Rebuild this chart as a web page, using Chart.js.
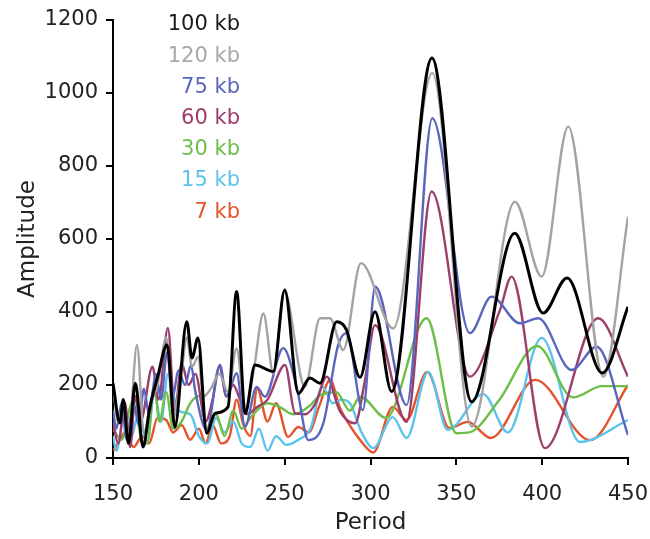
<!DOCTYPE html>
<html>
<head>
<meta charset="utf-8">
<script src="https://cdn.jsdelivr.net/npm/chart.js@4/dist/chart.umd.min.js"></script>
<style>
  html, body { margin: 0; background: #fff; }
  #caixa { width: 650px; height: 539px; }
</style>
</head>
<body>
<div id="caixa"><canvas id="grafico-periodos"></canvas></div>
<script>
// series names and colours
var nomes = ['100 kb', '120 kb', '75 kb', '60 kb', '30 kb', '15 kb', '7 kb'];
var cores = ['#000000', '#a3a3a3', '#5a66bd', '#9c3d6c', '#6dbf4a', '#5cc3ec', '#e5532c'];
var textoCores = ['#1a1a1a', '#a8a8a8', '#5a66bd', '#9c3d6c', '#6dbf4a', '#5cc3ec', '#e5532c'];

// period / amplitude for each series
var p100 = [150,154,156,159,163,167.5,171.5,176,181.5,186,193,196,199.5,204.6,209.4,217,222,227,232.7,243.4,250,258,264.7,270.6,280.3,286,293.9,302.6,312.3,335.8,358.9,384,400.5,414.5,435,450];
var a100 = [205,96,160,40,205,30,140,222,310,85,373,274,329,68,122,140,456,122,255,237,460,177,219,205,373,351,221,401,182,1096,154,616,397,493,233,414];

var p120 = [150,153,156,159,164,168,172,176,181,185,190,193,196,199.7,202.6,207,212,217,222,227,232,237.6,243.4,249.8,261.8,270.6,276.4,284.1,294.4,313.3,336,358.9,384.1,399.7,415.2,435.6,450];
var a120 = [195,100,150,60,310,70,150,200,330,110,240,330,250,278,168,190,230,180,300,130,240,396,232,456,195,383,383,296,534,355,1055,86,702,497,908,223,661];

var p75 = [150,152,155,158,162,165,168,171,175,178,181.5,185,188,192,195.5,197.8,204.6,212.3,216.2,222,226.9,233.7,238.5,249.2,257,263.8,272.5,281.2,286.1,295.5,302.8,321,336,357.9,370.5,387,397.7,417.1,431.7,450];
var a75 = [130,80,150,50,150,90,190,120,230,160,290,170,240,200,255,186,77,255,168,232,86,195,168,301,195,49,95,310,342,131,469,145,931,342,442,369,383,241,305,63];

var p60 = [150,153,157,160,163,166,173,176.5,182,186,190,194,198,204,208,212,216,220,224,228,234,240,250.2,256,262,268,274.5,282,291,296.8,302.6,321,335.6,357.9,375.4,382.2,401.6,432.7,450];
var a60 = [100,40,150,30,170,100,250,160,356,130,260,200,230,100,160,250,170,200,160,120,140,160,255,123,120,150,223,130,95,214,364,99,730,223,405,497,27,383,223];

var p30 = [150,155,160,163,166,170,174,177,181,185,190,195,200,205,210,215,220,225,230,240,247,255,265,270,280,288,294,309,332.7,350,358,375,397,418,435,450];
var a30 = [80,50,140,170,60,40,200,100,180,80,100,150,170,80,120,60,130,80,110,150,140,120,145,170,180,130,168,110,383,68,71,159,307,166,197,197];

var p15 = [150,152,156,160,165,170,174,178,182,188,195,200,205,210,215,220,225,230,235,240,245,251,258,265,272,278,283,288,295,301.6,313,321,333.6,345,365.7,380,399.7,422,450];
var a15 = [60,20,100,50,120,40,180,100,230,130,120,60,40,110,70,100,40,30,80,20,60,36,50,80,195,150,160,150,68,27,112,55,236,77,175,70,329,44,104];

var p7 = [150,153,157,162,167,171,176,181,185,190,195,200,204,208,213,218,222,226,230,234,240,245,252,258,264,270,276.5,282,287,294,301.6,313,321,333,346,356.7,370,396,428,450];
var a7 = [20,40,70,30,60,40,110,104,70,90,50,80,40,90,40,60,160,90,60,190,100,150,58,85,70,140,214,140,96,49,15,140,104,236,82,99,55,214,49,200];

var periodos = [p100, p120, p75, p60, p30, p15, p7];
var amplitudes = [a100, a120, a75, a60, a30, a15, a7];

// axis ticks
var xMin = 150, xMax = 450, xPasso = 50;
var yMin = 0, yMax = 1200, yPasso = 200;

var fonte = 'DejaVu Sans';

var conjuntos = nomes.map(function (nome, i) {
    return {
        label: nome,
        data: periodos[i].map(function (p, j) { return { x: p, y: amplitudes[i][j] }; }),
        borderColor: cores[i],
        backgroundColor: cores[i],
        borderWidth: i === 0 ? 3 : 2.4,
        pointRadius: 0,
        cubicInterpolationMode: 'monotone',
        fill: false
    };
});

// text-only legend, right aligned, top left of the plot
var legendaTexto = {
    id: 'legendaTexto',
    afterDraw: function (chart) {
        var c = chart.ctx;
        c.save();
        c.font = '21px "' + fonte + '"';
        c.textAlign = 'right';
        c.textBaseline = 'middle';
        nomes.forEach(function (nome, i) {
            c.fillStyle = textoCores[i];
            c.fillText(nome, 240, 25 + i * 31.2);
        });
        c.restore();
    }
};

var ctx = document.getElementById('grafico-periodos').getContext('2d');
var meuGrafico = new Chart(ctx, {
    type: 'line',
    data: { datasets: conjuntos },
    options: {
        responsive: true,
        maintainAspectRatio: false,
        animation: false,
        devicePixelRatio: 1,
        layout: { padding: { top: 20, right: 22, left: 0, bottom: 0 } },
        plugins: { legend: { display: false }, tooltip: { enabled: false } },
        scales: {
            x: {
                type: 'linear',
                min: xMin, max: xMax,
                ticks: { stepSize: xPasso, color: '#222', font: { family: fonte, size: 21 }, padding: 17, maxRotation: 0,
                         callback: function (v) { return String(v); } },
                grid: { drawOnChartArea: false, drawTicks: true, tickLength: 7, color: '#000', lineWidth: 2 },
                border: { color: '#000', width: 2 },
                title: { display: true, text: 'Period', color: '#222', font: { family: fonte, size: 23 }, padding: { top: 0, bottom: 2 } },
                afterFit: function (scale) { scale.height = 81; scale.paddingLeft = 0; scale.paddingRight = 0; }
            },
            y: {
                min: yMin, max: yMax,
                ticks: { stepSize: yPasso, color: '#222', font: { family: fonte, size: 21 }, padding: 8,
                         callback: function (v) { return String(v); } },
                grid: { drawOnChartArea: false, drawTicks: true, tickLength: 7, color: '#000', lineWidth: 2 },
                border: { color: '#000', width: 2 },
                title: { display: true, text: 'Amplitude', color: '#222', font: { family: fonte, size: 23 }, padding: { top: 14, bottom: 0 } },
                afterFit: function (scale) { scale.width = 113; scale.paddingTop = 0; scale.paddingBottom = 0; }
            }
        }
    },
    plugins: [legendaTexto]
});
</script>
</body>
</html>
